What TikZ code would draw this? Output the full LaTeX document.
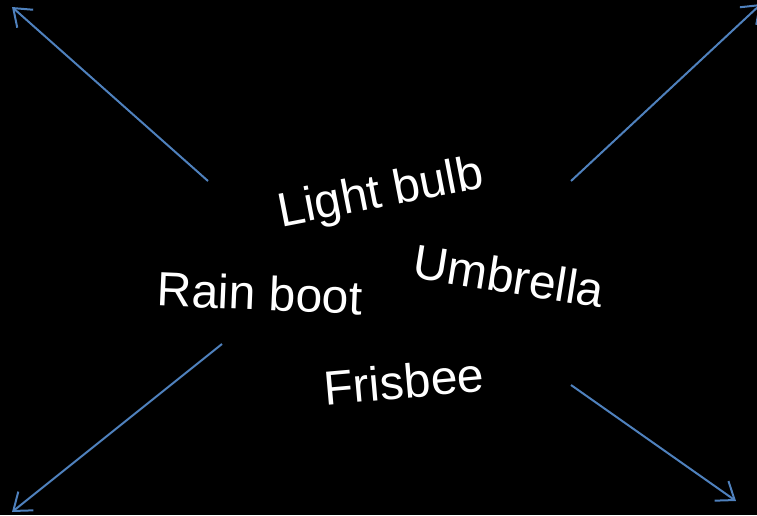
\documentclass[tikz,border=0pt]{standalone}
\usepackage{fontspec}
\setmainfont{Liberation Sans}
\usetikzlibrary{arrows.meta}
\definecolor{arrowblue}{RGB}{79,129,189}
\tikzset{
    word/.style={text=white, inner sep=0pt, font=\fontsize{48}{58}\selectfont},
    outarrow/.style={arrowblue, line width=2pt, -{Straight Barb[length=16pt, width=24pt, line width=2pt]}}
}
\begin{document}
\begin{tikzpicture}[x=1pt, y=-1pt]
            % background, same size as the reference
            \fill[black] (0,0) rectangle (757,515);
            \useasboundingbox (0,0) rectangle (757,515);

            \node[word, rotate=11]  (bulb)     at (381,195) {Light bulb};
            \node[word, rotate=-2.5] (boot)    at (260,293) {Rain boot};
            \node[word, rotate=-9]  (umbrella) at (509,276) {Umbrella};
            \node[word, rotate=5]   (frisbee)  at (404,381) {Frisbee};

            \coordinate (ulstart) at (208,181);
            \coordinate (ulend)   at (12,7);
            \coordinate (urstart) at (571,181);
            \coordinate (urend)   at (761,4);
            \coordinate (llstart) at (222,344);
            \coordinate (llend)   at (12,512);
            \coordinate (lrstart) at (571,385);
            \coordinate (lrend)   at (736,501);

            \foreach \a/\b in {ulstart/ulend, urstart/urend, llstart/llend, lrstart/lrend}
                \draw[outarrow] (\a) -- (\b);
\end{tikzpicture}
\end{document}
